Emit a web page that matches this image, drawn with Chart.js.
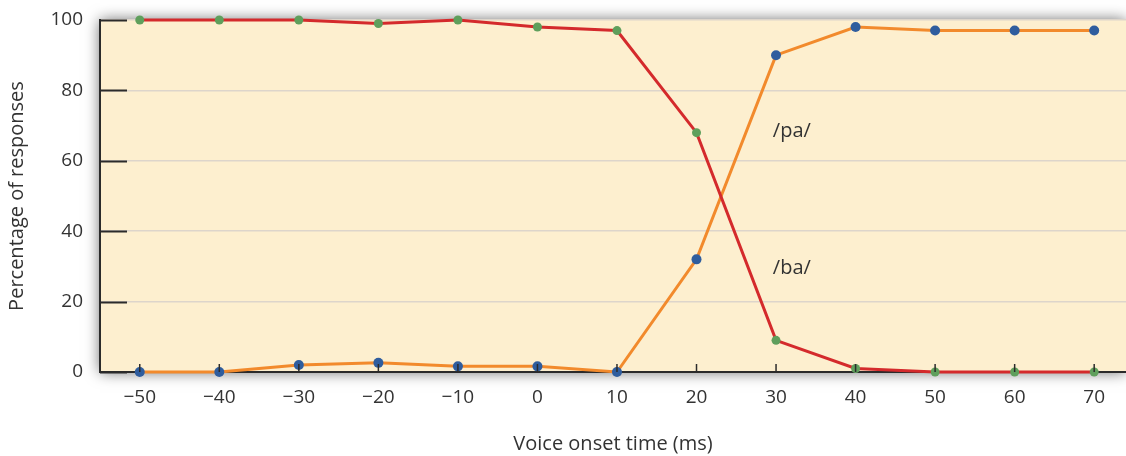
<!DOCTYPE html>
<html lang="en">
<head>
    <meta charset="UTF-8" />
    <title>Voice onset time</title>
    <script src="https://cdn.jsdelivr.net/npm/chart.js"></script>
    <style>
        html, body {
            margin: 0;
            padding: 0;
            background: #ffffff;
        }
        #wrap {
            width: 1126px;
            height: 456px;
        }
    </style>
</head>
<body>
    <div id="wrap"><canvas id="votChart"></canvas></div>

    <script>
        // data
        const voiceOnset = [-50, -40, -30, -20, -10, 0, 10, 20, 30, 40, 50, 60, 70];
        const baResponses = [100, 100, 100, 99, 100, 98, 97, 68, 9, 1, 0, 0, 0];
        const paResponses = [0, 0, 2, 2.6, 1.6, 1.6, 0, 32, 90, 98, 97, 97, 97];
        const yTicks = [0, 20, 40, 60, 80, 100];

        // curve labels, in data units
        const curveLabels = [
            { text: '/pa/', x: 29.6, y: 68.5 },
            { text: '/ba/', x: 29.6, y: 29.5 }
        ];

        const FONT = '"Open Sans", "Liberation Sans", Arial, sans-serif';
        const INK = '#333333';
        const PANEL = '#fdefcf';

        function toPoints(values) {
            return voiceOnset.map((x, i) => ({ x: x, y: values[i] }));
        }

        function fmt(v) {
            return v < 0 ? '\u2212' + Math.abs(v) : String(v);
        }

        // panel fill with a soft drop shadow
        const panelPlugin = {
            id: 'panel',
            beforeDraw(chart) {
                const { ctx, chartArea: a } = chart;
                ctx.save();
                ctx.shadowColor = 'rgba(0,0,0,0.6)';
                ctx.shadowBlur = 14;
                ctx.fillStyle = PANEL;
                ctx.fillRect(a.left, a.top, a.right - a.left, a.bottom - a.top);
                ctx.restore();
            }
        };

        // short dark ticks drawn inside the panel, plus curve labels
        const marksPlugin = {
            id: 'marks',
            afterDatasetsDraw(chart) {
                const { ctx, chartArea: a, scales } = chart;
                ctx.save();
                ctx.strokeStyle = '#2b2b2b';
                ctx.lineWidth = 2;
                yTicks.forEach(v => {
                    const y = Math.round(scales.y.getPixelForValue(v)) + 0.5;
                    ctx.beginPath();
                    ctx.moveTo(a.left, y);
                    ctx.lineTo(a.left + 27, y);
                    ctx.stroke();
                });
                ctx.lineWidth = 1.5;
                voiceOnset.forEach(v => {
                    const x = scales.x.getPixelForValue(v);
                    ctx.beginPath();
                    ctx.moveTo(x, a.bottom);
                    ctx.lineTo(x, a.bottom - 8);
                    ctx.stroke();
                });

                ctx.fillStyle = INK;
                ctx.font = '20px ' + FONT;
                ctx.textAlign = 'left';
                ctx.textBaseline = 'middle';
                curveLabels.forEach(l => {
                    ctx.fillText(l.text, scales.x.getPixelForValue(l.x), scales.y.getPixelForValue(l.y));
                });
                ctx.restore();
            }
        };

        new Chart(document.getElementById('votChart'), {
            type: 'line',
            data: {
                datasets: [{
                    label: '/ba/',
                    data: toPoints(baResponses),
                    borderColor: '#d42a2c',
                    borderWidth: 3,
                    pointBackgroundColor: '#5f9f5c',
                    pointBorderWidth: 0,
                    pointRadius: 4.5,
                    tension: 0,
                    clip: false
                }, {
                    label: '/pa/',
                    data: toPoints(paResponses),
                    borderColor: '#f28a2c',
                    borderWidth: 3,
                    pointBackgroundColor: '#2f5d9e',
                    pointBorderWidth: 0,
                    pointRadius: 5,
                    tension: 0,
                    clip: false
                }]
            },
            options: {
                responsive: true,
                maintainAspectRatio: false,
                animation: false,
                events: [],
                layout: { autoPadding: false, padding: { top: 20, right: 0, left: 0, bottom: 0 } },
                plugins: {
                    legend: { display: false },
                    tooltip: { enabled: false }
                },
                scales: {
                    x: {
                        type: 'linear',
                        min: -55,
                        max: 74,
                        afterBuildTicks(scale) {
                            scale.ticks = voiceOnset.map(v => ({ value: v }));
                        },
                        afterFit(scale) { scale.height = 84; },
                        grid: { display: false, drawTicks: false },
                        border: { color: '#2b2b2b', width: 2 },
                        ticks: {
                            padding: 14,
                            color: INK,
                            font: { family: FONT, size: 19 },
                            maxRotation: 0,
                            autoSkip: false,
                            callback: v => fmt(v)
                        },
                        title: {
                            display: true,
                            text: 'Voice onset time (ms)',
                            color: INK,
                            font: { family: FONT, size: 20 },
                            padding: { top: 0, bottom: 0 }
                        }
                    },
                    y: {
                        min: 0,
                        max: 100,
                        afterBuildTicks(scale) {
                            scale.ticks = yTicks.map(v => ({ value: v }));
                        },
                        afterFit(scale) {
                            scale.width = 100;
                            scale.paddingTop = 0;
                            scale.paddingBottom = 0;
                        },
                        grid: { color: '#ddd5cb', lineWidth: 1.5, drawTicks: false },
                        border: { color: '#2b2b2b', width: 2 },
                        ticks: {
                            padding: 17,
                            color: INK,
                            font: { family: FONT, size: 19 }
                        },
                        title: {
                            display: true,
                            text: 'Percentage of responses',
                            color: INK,
                            font: { family: FONT, size: 20 },
                            padding: { top: 5, bottom: 0 }
                        }
                    }
                }
            },
            plugins: [panelPlugin, marksPlugin]
        });
    </script>
</body>
</html>
